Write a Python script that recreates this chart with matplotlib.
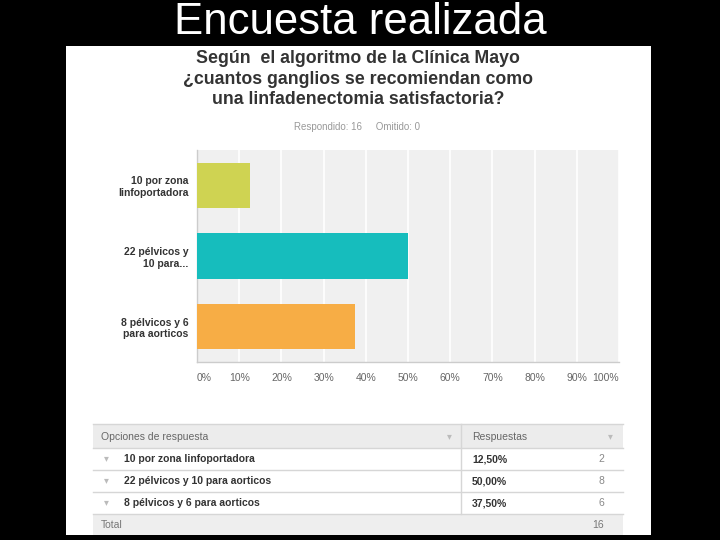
import matplotlib
matplotlib.use('Agg')
import matplotlib.pyplot as plt
from matplotlib.patches import Rectangle

plt.rcParams['font.family'] = ['Liberation Sans', 'DejaVu Sans']

# survey data
options = ['10 por zona\nlinfoportadora', '22 pélvicos y\n10 para...', '8 pélvicos y 6\npara aorticos']
options_full = ['10 por zona linfoportadora', '22 pélvicos y 10 para aorticos', '8 pélvicos y 6 para aorticos']
percent = [12.5, 50.0, 37.5]
counts = [2, 8, 6]
total = 16
omitted = 0
bar_colors = ['#cfd352', '#16bdbd', '#f7ad45']
xticks = [0, 10, 20, 30, 40, 50, 60, 70, 80, 90, 100]

W, H = 720, 540
fig = plt.figure(figsize=(W / 100, H / 100), dpi=100, facecolor='black')


def fx(x):
    return x / W


def fy(y):
    return 1 - y / H


# white panel
fig.patches.append(Rectangle((fx(66), fy(535)), fx(651) - fx(66), fy(46) - fy(535),
                             transform=fig.transFigure, facecolor='white', edgecolor='none', zorder=-10))

fig.text(0.5, fy(23), 'Encuesta realizada', color='white', fontsize=31.5, ha='center', va='center')

title = 'Según  el algoritmo de la Clínica Mayo\n¿cuantos ganglios se recomiendan como\nuna linfadenectomia satisfactoria?'
fig.text(fx(358), fy(79), title, color='#333333', fontsize=12.8, fontweight='bold',
         ha='center', va='center', linespacing=1.25)
fig.text(fx(357), fy(127), f'Respondido: {total}     Omitido: {omitted}', color='#999999',
         fontsize=7, ha='center', va='center')

# bar chart
ax = fig.add_axes([fx(197), fy(362), fx(619) - fx(197), fy(150) - fy(362)])
ax.set_zorder(5)
ax.set_facecolor('#f0f0f0')
ypos = list(range(len(options)))
ax.barh(ypos, percent, height=0.64, color=bar_colors, zorder=3)
ax.set_xlim(0, 100)
ax.set_ylim(2.5, -0.5)
ax.set_xticks(xticks)
ax.set_xticklabels([f'{t}%' for t in xticks], color='#666666', fontsize=7.5)
# first and last labels sit inside the plot edges
ax.get_xticklabels()[0].set_ha('left')
ax.get_xticklabels()[-1].set_ha('right')
ax.set_yticks(ypos)
ax.set_yticklabels(options, color='#333333', fontsize=7.5, fontweight='bold')
ax.tick_params(length=0, pad=8)
ax.tick_params(axis='y', pad=6)
ax.grid(axis='x', color='white', linewidth=1.2, zorder=1)
for s in ['top', 'right']:
    ax.spines[s].set_visible(False)
for s in ['left', 'bottom']:
    ax.spines[s].set_color('#cccccc')
    ax.spines[s].set_linewidth(1)

# table below
tl, tr, tc = 93, 623, 461
row_edges = [424, 448, 470, 492, 514, 535]


def hline(y):
    fig.lines.append(plt.Line2D([fx(tl), fx(tr)], [fy(y), fy(y)], transform=fig.transFigure,
                                color='#d6d6d6', linewidth=1))


fig.patches.append(Rectangle((fx(tl), fy(448)), fx(tr) - fx(tl), fy(424) - fy(448),
                             transform=fig.transFigure, facecolor='#ececec', edgecolor='none'))
fig.patches.append(Rectangle((fx(tl), fy(535)), fx(tr) - fx(tl), fy(514) - fy(535),
                             transform=fig.transFigure, facecolor='#eeeeee', edgecolor='none'))
for y in row_edges[:-1]:
    hline(y)
fig.lines.append(plt.Line2D([fx(tc), fx(tc)], [fy(424), fy(514)], transform=fig.transFigure,
                            color='#d6d6d6', linewidth=1))

fig.text(fx(101), fy(437), 'Opciones de respuesta', color='#666666', fontsize=7.5, va='center')
fig.text(fx(472), fy(437), 'Respuestas', color='#666666', fontsize=7.5, va='center')
fig.text(fx(449), fy(436), '▾', color='#bbbbbb', fontsize=7, va='center', ha='center')
fig.text(fx(610), fy(436), '▾', color='#bbbbbb', fontsize=7, va='center', ha='center')

for i in range(len(options_full)):
    yc = (row_edges[i + 1] + row_edges[i + 2]) / 2
    fig.text(fx(106), fy(yc - 1), '▾', color='#bbbbbb', fontsize=7, va='center', ha='center')
    fig.text(fx(124), fy(yc), options_full[i], color='#333333', fontsize=7.5, fontweight='bold', va='center')
    fig.text(fx(472), fy(yc), f'{percent[i]:.2f}%'.replace('.', ','), color='#333333',
             fontsize=7.5, fontweight='bold', va='center')
    fig.text(fx(604), fy(yc), str(counts[i]), color='#888888', fontsize=7.5, va='center', ha='right')

fig.text(fx(101), fy(525), 'Total', color='#777777', fontsize=7.5, va='center')
fig.text(fx(604), fy(525), str(total), color='#777777', fontsize=7.5, va='center', ha='right')

fig.savefig('out.png', dpi=100, facecolor='black')
